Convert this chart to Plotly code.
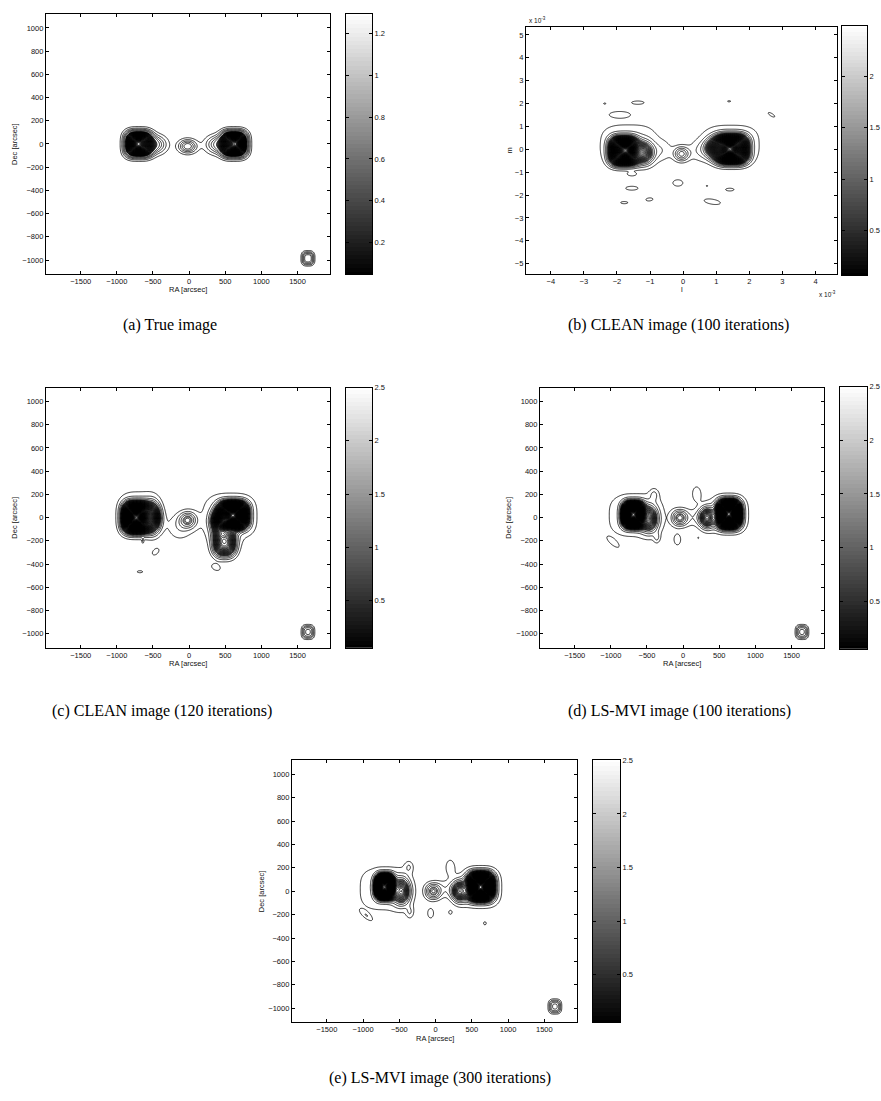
import numpy as np
import plotly.graph_objects as go

W, H = 881, 1101

# ---------------- data: source components per panel ----------------
# each component: centre (CX, CY), amplitude AMP, widths WX, WY, shape exponent N, rotation ANG (deg)
# (a) True image  [arcsec]
#        Lplat  Lcore  Ltail  centr  Rplat  Rcore  Rtail  beam
A_CX  = [-700, -703, -470, -20, 625, 636, 400, 1645]
A_CY  = [0, 0, -5, -20, 0, 0, -5, -985]
A_AMP = [0.9, 0.35, 0.28, 0.30, 0.9, 0.35, 0.28, 0.30]
A_WX  = [178, 80, 150, 120, 170, 80, 160, 80]
A_WY  = [105, 50, 75, 55, 105, 50, 75, 55]
A_N   = [3, 2, 2, 2, 3, 2, 2, 3]
A_ANG = [0, 0, 0, 0, 0, 0, 0, 0]

# (b) CLEAN 100 iterations  [l, m  x 1e-3]
#        Lplat Lcore  Lsec  Lhalo  brL  centr  Rplat Rcore  Rsec Rhalo  brR   islands...
B_CX  = [-1.8, -1.75, -1.2, -1.65, -0.6, -0.05, 1.47, 1.42, 0.95, 1.45, 0.45,
         -2.37, -1.37, -1.92, 1.39, 2.67, -1.55, -1.55, -0.16, 0.72, 1.41, -1.02, -1.78, 0.88]
B_CY  = [-0.08, -0.05, -0.15, 0.25, -0.05, -0.2, 0.0, 0.0, 0.05, 0.25, -0.05,
         2.0, 2.04, 1.53, 2.1, 1.51, -1.09, -1.7, -1.47, -1.6, -1.76, -2.19, -2.33, -2.29]
B_AMP = [1.6, 0.75, 0.7, 0.12, 0.09, 0.38, 1.65, 0.8, 0.7, 0.12, 0.09,
         0.1, 0.1, 0.1, 0.1, 0.1, 0.1, 0.1, 0.1, 0.1, 0.1, 0.1, 0.1, 0.1]
B_WX  = [0.40, 0.2, 0.28, 1.0, 0.3, 0.22, 0.46, 0.2, 0.28, 1.0, 0.3,
         0.06, 0.31, 0.42, 0.08, 0.21, 0.17, 0.31, 0.25, 0.04, 0.21, 0.18, 0.18, 0.42]
B_WY  = [0.57, 0.27, 0.45, 1.0, 0.45, 0.3, 0.58, 0.27, 0.4, 0.95, 0.45,
         0.04, 0.12, 0.18, 0.04, 0.08, 0.1, 0.14, 0.23, 0.04, 0.1, 0.11, 0.08, 0.18]
B_N   = [3, 2, 2, 3, 2, 2, 3, 2, 2, 3, 2,
         2, 2, 2, 2, 2, 2, 2, 2, 2, 2, 2, 2, 2]
B_ANG = [0, 0, 0, 0, 0, 0, 0, 0, 0, 0, 0,
         0, 0, 0, 0, -45, 0, 0, 0, 0, 0, 10, 0, -15]

# (c) CLEAN 120 iterations  [arcsec]
#        Lplat Lcore  Lsec  Lhalo  env   centr Rplat Rcore Rsec  Rlow  Rhalo  islands...           beam
C_CX  = [-732, -732, -500, -700, -130, -15, 610, 612, 420, 490, 560, -640, -463, -680, 371, 1645]
C_CY  = [0, 0, 0, 40, -80, -20, 20, 20, -30, -220, 10, -200, -294, -466, -428, -985]
C_AMP = [1.6, 0.85, 0.8, 0.11, 0.11, 0.32, 1.6, 0.9, 0.7, 0.8, 0.11, 0.1, 0.1, 0.1, 0.1, 0.32]
C_WX  = [175, 90, 100, 300, 180, 110, 188, 90, 110, 150, 420, 12, 65, 55, 80, 80]
C_WY  = [120, 60, 110, 210, 120, 65, 108, 60, 90, 110, 225, 22, 33, 12, 35, 55]
C_N   = [3, 2, 2, 3, 2, 2, 3, 2, 2, 2.5, 3, 2, 2, 2, 2, 3]
C_ANG = [0, 0, 0, 0, 0, 0, 0, 0, 0, 0, 0, 0, 20, 0, -10, 0]

# (d) LS-MVI 100 iterations  [arcsec]
#        Lplat Lcore Lsec  Lhalo Lbump centr bridge Rplat Rcore Rsec Rhalo  islands...            beam
D_CX  = [-690, -690, -470, -660, -400, -50, 100, 634, 634, 330, 620, -964, -362, -78, 210, 186, 1645]
D_CY  = [25, 25, -10, 20, 200, -2, 0, 30, 30, 0, 30, -214, -174, -190, -174, 206, -985]
D_AMP = [1.6, 0.85, 0.6, 0.11, 0.1, 0.32, 0.1, 1.6, 0.9, 0.6, 0.11, 0.1, 0.1, 0.1, 0.1, 0.1, 0.32]
D_WX  = [139, 90, 110, 427, 60, 100, 200, 154, 90, 100, 320, 100, 45, 60, 10, 75, 80]
D_WY  = [101, 60, 100, 210, 50, 65, 80, 111, 60, 80, 180, 30, 45, 60, 8, 80, 55]
D_N   = [3, 2, 2, 3, 2, 2.2, 2, 3, 2, 2, 3, 2, 2, 2, 2, 2, 3]
D_ANG = [0, 0, 0, 0, 0, 0, 0, 0, 0, 0, 0, -25, 0, 0, 0, 0, 0]

# (e) LS-MVI 300 iterations  [arcsec]
#        Lplat Lcore Lsec  Lhalo Lbump centr bridge Rplat Rcore Rsec Rhalo  islands...                  beam
E_CX  = [-700, -710, -470, -700, -367, -37, 120, 621, 621, 330, 620, -952, -354, -68, 204, 680, 200, 1645]
E_CY  = [40, 35, 0, 20, 210, -2, 20, 40, 35, 0, 30, -208, -180, -188, -180, -274, 206, -985]
E_AMP = [1.6, 0.85, 0.6, 0.11, 0.1, 0.32, 0.1, 1.6, 0.9, 0.6, 0.11, 0.1, 0.1, 0.1, 0.1, 0.1, 0.1, 0.32]
E_WX  = [118, 90, 110, 400, 60, 100, 200, 168, 90, 100, 320, 100, 55, 55, 30, 25, 75, 80]
E_WY  = [96, 60, 100, 210, 50, 65, 80, 110, 60, 80, 190, 30, 55, 55, 22, 18, 80, 55]
E_N   = [3, 2, 2, 3, 2, 2.2, 2, 3, 2, 2, 3, 2, 2, 2, 2, 2, 2, 3]
E_ANG = [0, 0, 0, 0, 0, 0, 0, 0, 0, 0, 0, -25, 0, 0, 0, 0, 0, 0]

# contour levels: (lowest, coarse step, dense start, dense step, last level)
LEVELS = {"a": (0.05, 0.05, 0.32, 0.02, 1.29), "b": (0.07, 0.07, 0.40, 0.035, 3.0),
          "c": (0.06, 0.06, 0.33, 0.03, 3.0), "d": (0.06, 0.06, 0.33, 0.03, 3.0),
          "e": (0.06, 0.06, 0.33, 0.03, 3.0)}
CB_RANGE = {"a": (0.048, 1.295), "b": (0.066, 2.49), "c": (0.058, 2.5),
            "d": (0.058, 2.5), "e": (0.058, 2.5)}
CB_TICKS = {"a": [0.2, 0.4, 0.6, 0.8, 1, 1.2], "b": [0.5, 1, 1.5, 2],
            "c": [0.5, 1, 1.5, 2, 2.5], "d": [0.5, 1, 1.5, 2, 2.5], "e": [0.5, 1, 1.5, 2, 2.5]}

ARC_XTICKS = [-1500, -1000, -500, 0, 500, 1000, 1500]
ARC_YTICKS = [-1000, -800, -600, -400, -200, 0, 200, 400, 600, 800, 1000]
LM_XTICKS = [-4, -3, -2, -1, 0, 1, 2, 3, 4]
LM_YTICKS = [-5, -4, -3, -2, -1, 0, 1, 2, 3, 4, 5]

CAPTIONS = {"a": "(a) True image", "b": "(b) CLEAN image (100 iterations)",
            "c": "(c) CLEAN image (120 iterations)", "d": "(d) LS-MVI image (100 iterations)",
            "e": "(e) LS-MVI image (300 iterations)"}

# ---------------- layout geometry (pixels) ----------------
BOX = {"a": (46, 330, 10, 271), "b": (526, 837, 23, 271), "c": (46, 330, 385, 646),
       "d": (540, 824, 385, 646), "e": (292, 577, 759, 1022)}
CBOX = {"a": (346, 372, 10, 271), "b": (842, 867, 22, 272), "c": (346, 372, 385, 646),
        "d": (840, 867, 384, 647), "e": (593, 620, 759, 1022)}
CAP_POS = {"a": (170, 322), "b": (678, 322), "c": (162, 710), "d": (679, 710), "e": (440, 1078)}

ARC_XR = [-1980, 1950]
ARC_YR = [-1120, 1120]
LM_XR = [-4.75, 4.65]
LM_YR = [-5.45, 5.35]


def px(x):
    return x / W


def py(y):
    return 1 - y / H


def build_field(xs, ys, cx, cy, amp, wx, wy, n, ang):
    X, Y = np.meshgrid(xs, ys)
    Z = np.zeros_like(X)
    for i in range(len(cx)):
        a = np.radians(ang[i])
        dx = X - cx[i]
        dy = Y - cy[i]
        u = dx * np.cos(a) + dy * np.sin(a)
        v = -dx * np.sin(a) + dy * np.cos(a)
        q = np.abs(u / wx[i]) ** n[i] + np.abs(v / wy[i]) ** n[i]
        Z += amp[i] * np.exp(-q)
    return Z


COMP = {
    "a": (A_CX, A_CY, A_AMP, A_WX, A_WY, A_N, A_ANG),
    "b": (B_CX, B_CY, B_AMP, B_WX, B_WY, B_N, B_ANG),
    "c": (C_CX, C_CY, C_AMP, C_WX, C_WY, C_N, C_ANG),
    "d": (D_CX, D_CY, D_AMP, D_WX, D_WY, D_N, D_ANG),
    "e": (E_CX, E_CY, E_AMP, E_WX, E_WY, E_N, E_ANG),
}

fig = go.Figure()
layout = dict(width=W, height=H, margin=dict(l=0, r=0, t=0, b=0),
              paper_bgcolor="white", plot_bgcolor="white", showlegend=False)
annotations = []

TICKFONT = dict(family="Liberation Sans, Arial, sans-serif", size=7.5, color="#111")
LABFONT = dict(family="Liberation Sans, Arial, sans-serif", size=7.5, color="#111")

idx = 1
for key in ["a", "b", "c", "d", "e"]:
    x0, x1, y0, y1 = BOX[key]
    if key == "b":
        xs = np.linspace(-3.3, 3.3, 331)
        ys = np.linspace(-2.9, 2.7, 281)
        xr, yr = LM_XR, LM_YR
        xt, yt = LM_XTICKS, LM_YTICKS
    else:
        xs = np.linspace(ARC_XR[0], ARC_XR[1], 360)
        ys = np.linspace(ARC_YR[0], ARC_YR[1], 320)
        xr, yr = ARC_XR, ARC_YR
        xt, yt = ARC_XTICKS, ARC_YTICKS
    Z = build_field(xs, ys, *COMP[key])
    lo, cstep, dstart, dstep, hi = LEVELS[key]
    ax = "" if idx == 1 else str(idx)
    # sparse outer contours
    fig.add_trace(go.Contour(
        x=xs, y=ys, z=Z, xaxis="x" + ax, yaxis="y" + ax,
        contours=dict(start=lo, end=dstart - cstep / 2, size=cstep, coloring="none"),
        line=dict(color="black", width=0.8), showscale=False, hoverinfo="skip"))
    # dense inner contours
    fig.add_trace(go.Contour(
        x=xs, y=ys, z=Z, xaxis="x" + ax, yaxis="y" + ax,
        contours=dict(start=dstart, end=hi, size=dstep, coloring="none"),
        line=dict(color="black", width=0.8), showscale=False, hoverinfo="skip"))
    common = dict(showline=True, linecolor="black", linewidth=1.2, mirror="ticks",
                  ticks="inside", ticklen=3, tickcolor="black", tickwidth=1,
                  showgrid=False, zeroline=False, tickfont=TICKFONT)
    layout["xaxis" + ax] = dict(domain=[px(x0), px(x1)], range=xr, anchor="y" + ax,
                                tickvals=xt, **common)
    layout["yaxis" + ax] = dict(domain=[py(y1), py(y0)], range=yr, anchor="x" + ax,
                                tickvals=yt, **common)
    idx += 1

    # colour bar as its own axes
    cx0, cx1, cy0, cy1 = CBOX[key]
    cmin, cmax = CB_RANGE[key]
    cvals = np.linspace(cmin, cmax, 64)
    ax = str(idx)
    fig.add_trace(go.Heatmap(
        x=[0.5], y=cvals, z=[[v] for v in cvals], xaxis="x" + ax, yaxis="y" + ax,
        colorscale=[[0, "black"], [1, "white"]], zmin=cmin, zmax=cmax,
        showscale=False, hoverinfo="skip"))
    layout["xaxis" + ax] = dict(domain=[px(cx0), px(cx1)], range=[0, 1], anchor="y" + ax,
                                showline=True, linecolor="black", linewidth=1.2, mirror=True,
                                ticks="", showticklabels=False, showgrid=False, zeroline=False)
    layout["yaxis" + ax] = dict(domain=[py(cy1), py(cy0)], range=[cmin, cmax], anchor="x" + ax,
                                side="right", showline=True, linecolor="black", linewidth=1.2,
                                mirror="ticks", ticks="inside", ticklen=2.5, tickcolor="black",
                                tickvals=CB_TICKS[key], ticktext=[("%g" % t) for t in CB_TICKS[key]],
                                showgrid=False, zeroline=False, tickfont=TICKFONT)
    idx += 1

    # axis labels
    xl = "l" if key == "b" else "RA [arcsec]"
    yl = "m" if key == "b" else "Dec [arcsec]"
    annotations.append(dict(x=px((x0 + x1) / 2), y=py(y1 + 16), xref="paper", yref="paper",
                            text=xl, showarrow=False, font=LABFONT, xanchor="center", yanchor="middle"))
    annotations.append(dict(x=px(x0 - (17 if key == "b" else 31)), y=py((y0 + y1) / 2),
                            xref="paper", yref="paper", text=yl, showarrow=False, font=LABFONT,
                            textangle=-90, xanchor="center", yanchor="middle"))
    # caption
    cxp, cyp = CAP_POS[key]
    annotations.append(dict(x=px(cxp), y=py(cyp), xref="paper", yref="paper", text=CAPTIONS[key],
                            showarrow=False, xanchor="center", yanchor="middle",
                            font=dict(family="Liberation Serif, Times New Roman, serif", size=16,
                                      color="black")))

# exponent labels for panel (b)
annotations.append(dict(x=px(527), y=py(16), xref="paper", yref="paper",
                        text="x 10<sup>-3</sup>", showarrow=False, xanchor="left", yanchor="middle",
                        font=dict(family="Liberation Sans, Arial, sans-serif", size=6.5, color="#111")))
annotations.append(dict(x=px(817), y=py(291), xref="paper", yref="paper",
                        text="x 10<sup>-3</sup>", showarrow=False, xanchor="left", yanchor="middle",
                        font=dict(family="Liberation Sans, Arial, sans-serif", size=6.5, color="#111")))

layout["annotations"] = annotations
fig.update_layout(**layout)
fig.write_html("out.html", config={"displayModeBar": False},
               post_script="document.body.style.margin='0px';document.body.style.overflow='hidden';")
